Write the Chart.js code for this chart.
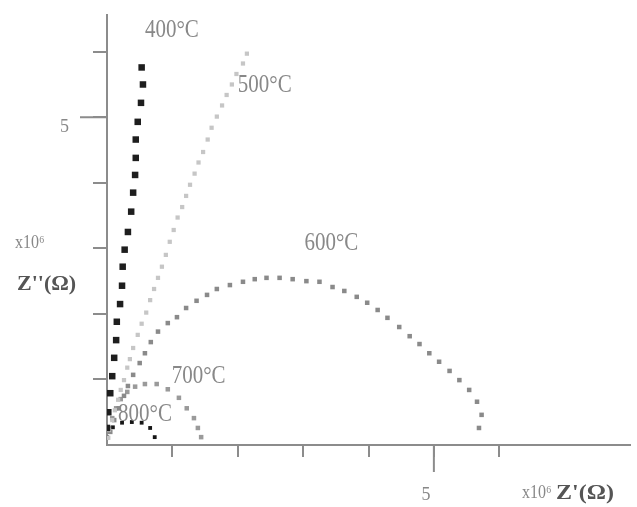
<!doctype html>
<html>
<head>
	<title>Impedance Spectra</title>
	<script src="https://cdn.jsdelivr.net/npm/chart.js@4.4.0/dist/chart.umd.min.js"></script>
	<style>
		body { margin: 0; background: #fff; }
		#wrap { width: 637px; height: 507px; }
	</style>
</head>
<body>
	<div id="wrap">
		<canvas id="canvas"></canvas>
	</div>
	<script>
		// Z' and Z'' in units of 10^6 ohm
		var t400x = [0.53, 0.55, 0.52, 0.47, 0.44, 0.44, 0.43, 0.40, 0.37, 0.32, 0.27, 0.24, 0.23, 0.20, 0.15, 0.14, 0.11, 0.08, 0.05, 0.02, 0.00];
		var t400y = [5.76, 5.50, 5.22, 4.93, 4.66, 4.38, 4.12, 3.85, 3.56, 3.25, 2.98, 2.72, 2.43, 2.15, 1.88, 1.60, 1.33, 1.05, 0.79, 0.50, 0.26];

		var t500x = [2.14, 2.08, 1.98, 1.91, 1.83, 1.76, 1.68, 1.60, 1.54, 1.47, 1.40, 1.34, 1.27, 1.21, 1.15, 1.08, 1.02, 0.96, 0.90, 0.84, 0.78, 0.72, 0.66, 0.60, 0.53, 0.47, 0.40, 0.35, 0.31, 0.26, 0.21, 0.17, 0.12, 0.08, 0.03, 0.02];
		var t500y = [5.97, 5.82, 5.66, 5.50, 5.34, 5.18, 5.01, 4.84, 4.66, 4.47, 4.31, 4.14, 3.97, 3.80, 3.63, 3.47, 3.28, 3.10, 2.90, 2.72, 2.55, 2.38, 2.21, 2.02, 1.85, 1.68, 1.48, 1.31, 1.18, 0.99, 0.84, 0.69, 0.53, 0.38, 0.23, 0.11];

		var t600x = [0.05, 0.11, 0.18, 0.26, 0.32, 0.40, 0.50, 0.58, 0.67, 0.78, 0.93, 1.07, 1.21, 1.37, 1.53, 1.68, 1.88, 2.08, 2.26, 2.44, 2.64, 2.84, 3.05, 3.25, 3.45, 3.63, 3.82, 3.98, 4.14, 4.29, 4.47, 4.63, 4.78, 4.93, 5.08, 5.24, 5.39, 5.54, 5.66, 5.73, 5.69];
		var t600y = [0.20, 0.38, 0.56, 0.75, 0.90, 1.07, 1.25, 1.40, 1.57, 1.73, 1.86, 1.95, 2.09, 2.20, 2.29, 2.38, 2.44, 2.49, 2.53, 2.55, 2.55, 2.53, 2.50, 2.49, 2.41, 2.35, 2.26, 2.17, 2.06, 1.94, 1.80, 1.66, 1.54, 1.40, 1.27, 1.13, 0.99, 0.84, 0.66, 0.46, 0.26];

		var t700x = [0.00, 0.03, 0.08, 0.14, 0.21, 0.31, 0.43, 0.58, 0.76, 0.93, 1.10, 1.22, 1.33, 1.39, 1.44];
		var t700y = [0.11, 0.26, 0.41, 0.56, 0.70, 0.81, 0.89, 0.93, 0.93, 0.85, 0.72, 0.56, 0.41, 0.26, 0.12];

		var t800x = [0.00, 0.02, 0.09, 0.23, 0.38, 0.53, 0.66, 0.73];
		var t800y = [0.12, 0.23, 0.27, 0.34, 0.35, 0.34, 0.26, 0.12];

		var tickLabels = { 5: '5' };

		var axisGrey = '#8c8c8c';
		var serif = "'Liberation Serif', 'DejaVu Serif', serif";

		var pairs = function(xs, ys) {
			return xs.map(function(x, i) {
				return { x: x, y: ys[i] };
			});
		};

		var series = function(label, xs, ys, colour, radius) {
			return {
				label: label,
				data: pairs(xs, ys),
				showLine: false,
				pointStyle: 'rect',
				pointRadius: radius,
				pointBorderWidth: 0,
				pointBackgroundColor: colour,
				pointBorderColor: colour
			};
		};

		var shownTick = function(ctx) {
			var v = ctx.tick.value;
			return (Number.isInteger(v) && v >= 1 && v <= 6) ? axisGrey : 'rgba(0,0,0,0)';
		};

		// the scanned figure is a little stretched, so text is drawn scaled
		var stretchText = function(c, text, x, y, sx, sy) {
			c.save();
			c.translate(x, y);
			c.scale(sx, sy);
			c.fillText(text, 0, 0);
			c.restore();
		};

		// longer ticks at 5, axis names and temperature labels
		var decorations = {
			id: 'decorations',
			afterDraw: function(chart) {
				var c = chart.ctx;
				var xs = chart.scales.x, ys = chart.scales.y;
				var left = chart.chartArea.left, bottom = chart.chartArea.bottom;
				c.save();
				c.strokeStyle = axisGrey;
				c.lineWidth = 2;
				c.beginPath();
				var y5 = ys.getPixelForValue(5);
				c.moveTo(80, y5);
				c.lineTo(left, y5);
				var x5 = xs.getPixelForValue(5);
				c.moveTo(x5, bottom);
				c.lineTo(x5, bottom + 27);
				c.stroke();

				c.textBaseline = 'middle';
				c.textAlign = 'left';
				c.fillStyle = '#888';
				c.font = '16px ' + serif;
				stretchText(c, 'x10\u2076', 15, 243, 1, 1.15);
				stretchText(c, 'x10\u2076', 522, 493, 1, 1.15);
				c.fillStyle = '#555';
				c.font = 'bold 20px ' + serif;
				stretchText(c, 'Z\'\'(\u03A9)', 17, 284, 1.1, 1.1);
				stretchText(c, 'Z\'(\u03A9)', 556, 493, 1.2, 1.1);

				c.fillStyle = '#888';
				c.font = '21px ' + serif;
				[['400\u00B0C', 0.58, 6.32], ['500\u00B0C', 2.0, 5.48], ['600\u00B0C', 3.02, 3.08],
				 ['700\u00B0C', 0.99, 1.05], ['800\u00B0C', 0.17, 0.47]].forEach(function(l) {
					stretchText(c, l[0], xs.getPixelForValue(l[1]), ys.getPixelForValue(l[2]), 1, 1.2);
				});
				c.restore();
			}
		};

		var config = {
			type: 'scatter',
			data: {
				datasets: [
					series('400°C', t400x, t400y, '#1e1e1e', 4.6),
					series('500°C', t500x, t500y, '#c6c6c6', 3.0),
					series('600°C', t600x, t600y, '#8a8a8a', 3.2),
					series('700°C', t700x, t700y, '#9a9a9a', 3.2),
					series('800°C', t800x, t800y, '#151515', 2.7)
				]
			},
			options: {
				responsive: true,
				maintainAspectRatio: false,
				animation: false,
				layout: { padding: { top: 15, right: 7, left: 0, bottom: 0 } },
				plugins: {
					legend: { display: false },
					tooltip: { enabled: false }
				},
				scales: {
					x: {
						type: 'linear',
						min: 0,
						max: 8,
						afterFit: function(scale) {
							scale.height = 62;
							scale.paddingLeft = 0;
							scale.paddingRight = 0;
						},
						border: { color: axisGrey, width: 2 },
						grid: { drawOnChartArea: false, tickLength: 12, lineWidth: 2, color: shownTick },
						ticks: {
							stepSize: 1,
							autoSkip: false,
							maxRotation: 0,
							padding: 27,
							labelOffset: -8,
							color: '#888',
							font: { family: serif, size: 18 },
							callback: function(v) { return tickLabels[v] || ''; }
						}
					},
					y: {
						type: 'linear',
						min: 0,
						max: 6.56,
						afterFit: function(scale) {
							scale.width = 107;
							scale.paddingTop = 0;
							scale.paddingBottom = 0;
						},
						border: { color: axisGrey, width: 2 },
						grid: { drawOnChartArea: false, tickLength: 14, lineWidth: 2, color: shownTick },
						ticks: {
							stepSize: 1,
							autoSkip: false,
							padding: 24,
							labelOffset: 10,
							color: '#888',
							font: { family: serif, size: 18 },
							callback: function(v) { return tickLabels[v] || ''; }
						}
					}
				}
			},
			plugins: [decorations]
		};

		window.onload = function() {
			window.myChart = new Chart(document.getElementById('canvas'), config);
		};
	</script>
</body>
</html>
